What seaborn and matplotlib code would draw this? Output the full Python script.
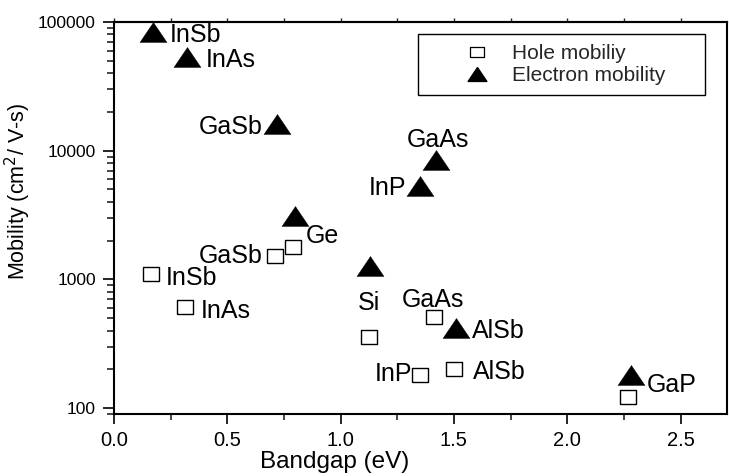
import matplotlib
matplotlib.use("Agg")
import matplotlib.pyplot as plt
import seaborn as sns
import pandas as pd
import numpy as np
from matplotlib.ticker import LogLocator, FuncFormatter, MultipleLocator, NullFormatter
from matplotlib.lines import Line2D

# ---------------- data ----------------
electron_materials = ["InSb", "InAs", "GaSb", "GaAs", "InP", "Ge", "Si", "AlSb", "GaP"]
electron_bandgap = [0.17, 0.32, 0.72, 1.42, 1.35, 0.80, 1.13, 1.51, 2.28]
electron_mobility = [84000, 53000, 16000, 8500, 5300, 3100, 1270, 415, 180]

hole_materials = ["InSb", "InAs", "GaSb", "GaAs", "InP", "Ge", "Si", "AlSb", "GaP"]
hole_bandgap = [0.165, 0.315, 0.71, 1.41, 1.35, 0.79, 1.125, 1.50, 2.27]
hole_mobility = [1110, 610, 1530, 510, 180, 1790, 355, 200, 122]

series_names = ["Hole mobiliy", "Electron mobility"]

# label placement: (text, series, index, ha, dx_px, dy_px)  baseline anchored
label_specs = [
    ("InSb", "e", 0, "left", 17, -10),
    ("InAs", "e", 1, "left", 19, -10),
    ("GaSb", "e", 2, "right", -15, -10),
    ("GaAs", "e", 3, "center", 2, 13),
    ("InP", "e", 4, "right", -14, -9),
    ("Ge", "e", 5, "left", 10, -27),
    ("Si", "e", 6, "center", -1, -44),
    ("AlSb", "e", 7, "left", 16, -10),
    ("GaP", "e", 8, "left", 16, -17),
    ("InSb", "h", 0, "left", 14, -11),
    ("InAs", "h", 1, "left", 15, -11),
    ("GaSb", "h", 2, "right", -12, -7),
    ("GaAs", "h", 3, "center", -1, 10),
    ("InP", "h", 4, "right", -8, -6),
    ("AlSb", "h", 7, "left", 19, -10),
]

df_e = pd.DataFrame({"Bandgap": electron_bandgap, "Mobility": electron_mobility,
                     "carrier": series_names[1]})
df_h = pd.DataFrame({"Bandgap": hole_bandgap, "Mobility": hole_mobility,
                     "carrier": series_names[0]})

# ---------------- style ----------------
sns.set_theme(style="ticks")
plt.rcParams["font.family"] = ["Liberation Sans", "DejaVu Sans"]
plt.rcParams["axes.linewidth"] = 1.5

DPI = 100
fig = plt.figure(figsize=(7.29, 4.76), dpi=DPI)
ax = fig.add_axes([114 / 729, 1 - 414 / 476, 613 / 729, 392 / 476])

tri = [(0, 0.74), (-1, -0.74), (1, -0.74), (0, 0.74)]
rect = [(-1, -0.8), (1, -0.8), (1, 0.8), (-1, 0.8), (-1, -0.8)]

sns.scatterplot(data=df_h, x="Bandgap", y="Mobility", ax=ax, marker=rect,
                s=140, facecolor="white", edgecolor="black", linewidth=1.0,
                legend=False, zorder=3)
sns.scatterplot(data=df_e, x="Bandgap", y="Mobility", ax=ax, marker=tri,
                s=377, color="black", edgecolor="black", linewidth=0.3,
                legend=False, zorder=4)

ax.set_yscale("log")
ax.set_xlim(0, 613 / 226.6)
ax.set_ylim(10 ** (2 - 6 / 128.67), 100000)

# ticks
ax.xaxis.set_major_locator(MultipleLocator(0.5))
ax.xaxis.set_minor_locator(MultipleLocator(0.25))
ax.xaxis.set_major_formatter(FuncFormatter(lambda v, _: f"{v:.1f}"))
ax.yaxis.set_major_locator(LogLocator(base=10, numticks=10))
ax.yaxis.set_minor_locator(LogLocator(base=10, subs=np.arange(2, 10), numticks=20))
ax.yaxis.set_major_formatter(FuncFormatter(lambda v, _: f"{int(round(v))}"))
ax.yaxis.set_minor_formatter(NullFormatter())

ax.tick_params(axis="x", which="major", direction="out", length=7, width=1.2,
               labelsize=14.5, pad=5, colors="black")
ax.tick_params(axis="x", which="minor", direction="out", length=4, width=1.2)
ax.tick_params(axis="y", which="major", direction="out", length=8, width=1.2,
               labelsize=12.5, pad=5, colors="black")
ax.tick_params(axis="y", which="minor", direction="out", length=5, width=1.2)

sec = ax.secondary_xaxis("top")
sec.xaxis.set_major_locator(MultipleLocator(0.25))
sec.tick_params(axis="x", which="both", direction="out", length=3, width=1.0,
                labeltop=False)
sec.spines["top"].set_linewidth(1.5)

for sp in ax.spines.values():
    sp.set_color("black")
    sp.set_linewidth(1.5)

ax.set_xlabel("Bandgap (eV)", fontsize=17.5, color="black")
ax.set_ylabel("Mobility (cm$^2$/ V-s)", fontsize=15.5, color="black")
ax.xaxis.set_label_coords((335 - 114) / 613, (414 - 451) / 392)
ax.yaxis.set_label_coords((33 - 114) / 613, (414 - 191) / 392)

# point labels
for text, ser, idx, ha, dx, dy in label_specs:
    if ser == "e":
        xv, yv = electron_bandgap[idx], electron_mobility[idx]
    else:
        xv, yv = hole_bandgap[idx], hole_mobility[idx]
    ax.annotate(text, (xv, yv), xytext=(dx * 72 / DPI, dy * 72 / DPI),
                textcoords="offset points", ha=ha, va="baseline",
                fontsize=18, color="black", zorder=5)

# legend
handles = [
    Line2D([], [], linestyle="none", marker=rect, markersize=9.5,
           markerfacecolor="white", markeredgecolor="black", markeredgewidth=0.9),
    Line2D([], [], linestyle="none", marker=tri, markersize=13.5,
           markerfacecolor="black", markeredgecolor="black"),
]
leg = ax.legend(handles, series_names, loc="upper left",
                bbox_to_anchor=((418 - 114) / 613, (414 - 34) / 392 - 0.01,
                                (705 - 418) / 613, 0.01),
                mode="expand", borderaxespad=0, frameon=True, fancybox=False,
                fontsize=15, borderpad=0.5, handlelength=4.67,
                handletextpad=-0.65, labelspacing=0.12)
leg.get_frame().set_edgecolor("black")
leg.get_frame().set_linewidth(1.0)
leg.get_frame().set_alpha(1)

fig.savefig("out.png", dpi=DPI)
